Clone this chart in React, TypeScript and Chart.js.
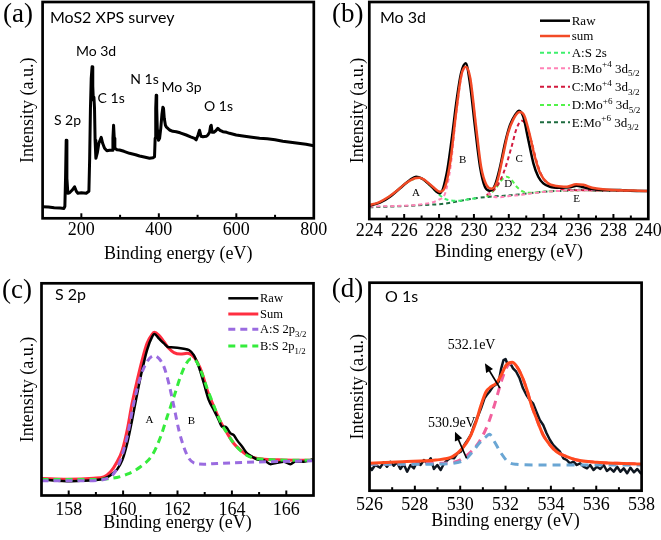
import React, { useEffect, useRef } from "react";
import { Chart, registerables } from "chart.js";

Chart.register(...registerables);

const SERIF = "'Liberation Serif', 'Times New Roman', Times, serif";
const SANS = "Lato, 'Noto Sans', 'DejaVu Sans', sans-serif";

// ---------------- (a) MoS2 XPS survey ----------------
const surveyEnergy = [100, 115, 130, 145, 155, 157.5, 159.2, 160.9, 162.7, 165.2, 169.6, 176, 182.5, 187, 191.1, 200, 212.6, 219.5, 221.5, 223.5, 225.5, 227.7, 229.5, 231, 232.5, 234, 235.5, 237.5, 241.5, 245.2, 251.3, 255, 259.9, 266, 272.8, 279.7, 281.5, 283.2, 285, 286.5, 292, 298.6, 310, 324.4, 340, 350.2, 365, 376, 385, 388.9, 390.5, 392, 393.2, 394.5, 396, 399.2, 402, 405, 408, 410.5, 412.1, 414, 417, 419.1, 427.7, 436, 444.9, 455, 470.7, 482, 492.2, 496.5, 501, 505.1, 509, 513.7, 522.3, 527, 531, 533.5, 535.2, 537.5, 542, 547, 552.4, 558, 565.3, 575, 582.5, 599.7, 616.9, 640, 660, 680, 700, 720, 740, 760, 780, 800];
const surveyIntensity = [11.5, 11.2, 10.6, 10.2, 9.8, 12, 40, 78, 40, 25, 25.5, 28, 31.5, 27, 25, 25.5, 25, 27, 60, 110, 140, 151.5, 132, 118, 121, 110, 78, 60, 66, 75, 81, 75, 70, 67.5, 68, 68, 80, 93, 80, 70, 68.5, 68.3, 67, 65, 63.5, 62.3, 61, 60, 60.5, 61.5, 80, 110, 123, 110, 90, 78, 80, 90, 104, 111, 110, 100, 93, 91.5, 88.3, 87, 86.6, 85.5, 83.3, 81.5, 80, 78.5, 83, 88, 82, 81.5, 82, 83.5, 86, 92, 93, 86, 86, 87.5, 90, 88, 86.6, 86, 85, 83.3, 82.3, 81, 80, 79.5, 78.5, 77, 76, 75, 74, 72.5];
const surveyTicks = [200, 400, 600, 800];
const surveyPeakNames = ["S 2p", "Mo 3d", "C 1s", "N 1s", "Mo 3p", "O 1s"];
const surveyPeakE = [164.3, 238, 277, 363, 458.7, 554];
const surveyPeakI = [93.8, 162.3, 115.3, 134.5, 126.6, 107.1];

// ---------------- (b) Mo 3d ----------------
const moTicks = [224, 226, 228, 230, 232, 234, 236, 238, 240];
const moRawE = [224, 224.61, 225.19, 225.76, 226.33, 226.68, 227.0, 227.48, 227.86, 228.05, 228.44, 228.72, 229.01, 229.26, 229.53, 229.77, 230.06, 230.35, 230.63, 230.92, 231.21, 231.5, 231.78, 232.07, 232.36, 232.59, 232.83, 233.12, 233.41, 233.69, 233.98, 234.36, 234.94, 235.51, 235.89, 236.28, 236.85, 237.61, 238.38, 238.95, 239.72, 240];
const moRawI = [13.3, 16.3, 22.3, 30.7, 39, 42.3, 40.7, 34, 27.3, 25.7, 45.7, 79, 119, 145.7, 155.7, 135.7, 92.3, 52.3, 32.3, 28.3, 34, 52.3, 75.7, 94, 104, 108.3, 102.3, 79, 55.7, 42.3, 35.7, 32.3, 31.3, 31.7, 33.3, 31.7, 29.7, 29, 29, 28.3, 28, 28];
const moSumE = [224, 224.55, 225.07, 225.58, 226.09, 226.61, 226.86, 227.12, 227.64, 228.05, 228.35, 228.66, 228.97, 229.28, 229.54, 229.79, 230.1, 230.41, 230.72, 231.03, 231.33, 231.64, 231.95, 232.26, 232.61, 232.87, 233.18, 233.49, 233.8, 234.21, 234.73, 235.34, 235.86, 236.27, 236.78, 237.4, 238.43, 239.46, 240];
const moSumI = [14, 16.7, 21.7, 28.3, 35.7, 40.7, 41.3, 39.7, 32.3, 27.3, 32.3, 59, 105.7, 144, 152.3, 140.7, 95.7, 52.3, 34, 30.3, 37.3, 60.7, 85.7, 99.7, 107, 104, 85.7, 62.3, 45.7, 36.3, 33, 32.3, 34.7, 34.3, 31.3, 29.7, 28.7, 28.3, 28];
const moAE = [224, 224.55, 225.07, 225.58, 226.09, 226.61, 226.86, 227.12, 227.64, 228.15, 228.55, 229.18, 229.69, 230.2];
const moAI = [13.3, 16.3, 21.7, 28.3, 35.7, 40.3, 41.3, 39, 30.7, 22.3, 19, 18.3, 19.7, 21];
const moBE = [224, 227.12, 227.95, 228.35, 228.66, 228.97, 229.28, 229.54, 229.79, 230.1, 230.41, 230.72, 231.03, 231.43, 232.05, 232.77, 233.8, 234.83, 236.37, 240];
const moBI = [12.3, 15, 19, 25.7, 52.3, 102.3, 142.3, 151.3, 139.7, 95.7, 49, 29, 23, 21.7, 23, 24.3, 26.7, 28, 28.7, 28];
const moCE = [230.73, 231.2, 231.69, 232.16, 232.45, 232.74, 233.02, 233.29, 233.59, 233.9, 234.32, 234.83, 235.55, 236.37, 238.43, 240];
const moCI = [24, 30, 45.7, 72.3, 90.7, 98.3, 93, 78, 58, 43, 34, 30.5, 29, 28.7, 28.3, 28];
const moDE = [230.73, 231.21, 231.59, 231.88, 232.16, 232.45, 232.83, 233.22, 234.32, 235.34, 236.37, 238.43, 240];
const moDI = [22.3, 29.7, 39, 42.3, 39, 32.3, 27.3, 26.3, 27.7, 28.3, 28.7, 28.3, 28];
const moEE = [224, 225.07, 226.09, 227.12, 228.15, 228.66, 229.18, 229.69, 230.2, 230.72, 231.23, 231.74, 232.26, 232.77, 233.29, 233.8, 234.32, 234.83, 235.34, 235.86, 236.37, 236.89, 237.4, 238.43, 239.46, 240];
const moEI = [11.7, 12.3, 13, 14, 15, 16.3, 18, 19.7, 21, 22, 22.7, 23.3, 24, 25, 26, 27, 27.7, 28, 28.3, 29.3, 29, 28.3, 28, 28, 28, 28];
const moPeakNames = ["A", "B", "C", "D", "E"];
const moPeakE = [226.68, 229.35, 232.6, 231.97, 235.89];
const moPeakI = [26.3, 59, 59.7, 35, 19.7];

// ---------------- (c) S 2p ----------------
const sTicks = [158, 160, 162, 164, 166];
const sRawE = [157.09, 157.58, 157.94, 158.43, 158.92, 159.29, 159.54, 159.78, 159.97, 160.15, 160.33, 160.52, 160.7, 160.88, 161.07, 161.15, 161.31, 161.5, 161.68, 161.77, 161.99, 162.23, 162.42, 162.6, 162.78, 162.97, 163.15, 163.34, 163.52, 163.64, 163.76, 163.95, 164.07, 164.19, 164.38, 164.56, 164.75, 164.93, 165.17, 165.42, 165.66, 165.91, 166.15, 166.34, 166.64, 166.95];
const sRawI = [16, 14.7, 14.3, 14.7, 15.3, 16.7, 20.3, 26, 35.3, 52, 75.3, 102, 125.3, 145.3, 158.7, 161.3, 157, 152, 148, 148, 147.7, 146.7, 145.3, 140.3, 128.7, 112, 95.3, 85.3, 75.3, 68.7, 68.7, 62, 60.3, 55.3, 48.7, 42, 38.7, 36, 35.3, 31.3, 32.7, 33.7, 31.3, 34, 33.7, 36];
const sSumE = [157, 157.94, 158.92, 159.29, 159.54, 159.78, 159.97, 160.15, 160.33, 160.52, 160.7, 160.88, 161.07, 161.15, 161.31, 161.5, 161.68, 161.87, 162.11, 162.36, 162.54, 162.72, 162.91, 163.09, 163.34, 163.58, 163.83, 164.07, 164.32, 164.56, 164.81, 165.17, 165.66, 166.28, 166.95];
const sSumI = [17, 16.3, 17.3, 18.7, 23.7, 33.7, 45.3, 65.3, 92, 115.3, 135.3, 152, 161.3, 163, 160.3, 153.7, 147, 142.7, 141.3, 142, 140, 133.7, 122, 105.3, 88.7, 73.7, 62, 52, 45.3, 40.3, 37.7, 36.3, 35.7, 35.3, 35.3];
const sAE = [157, 158.56, 159.29, 159.66, 159.9, 160.15, 160.39, 160.64, 160.88, 161.07, 161.15, 161.31, 161.5, 161.68, 161.87, 162.05, 162.23, 162.42, 162.66, 162.97, 163.46, 164.07, 165.29, 166.95];
const sAI = [14.7, 14.7, 16, 22, 35.3, 58.7, 92, 118.7, 133.7, 139.3, 139.7, 137, 128.7, 112, 88.7, 65.3, 48.7, 37, 32, 31.3, 32, 32.7, 33.7, 34.7];
const sBE = [157, 158.56, 159.54, 160.15, 160.64, 161.07, 161.38, 161.62, 161.87, 162.11, 162.29, 162.5, 162.66, 162.85, 163.09, 163.34, 163.58, 163.83, 164.07, 164.32, 164.56, 164.81, 165.29, 166.28, 166.95];
const sBI = [16, 16, 17, 21.3, 28.7, 40.3, 58.7, 78.7, 98.7, 118.7, 130.3, 136.7, 135.3, 125.3, 107, 89.3, 73.7, 62, 52, 44.7, 40, 37.3, 36, 35.3, 35.3];
const sPeakNames = ["A", "B"];
const sPeakE = [160.97, 162.51];
const sPeakI = [75.3, 74.7];

// ---------------- (d) O 1s ----------------
const oTicks = [526, 528, 530, 532, 534, 536, 538];
const oRawE = [526, 526.1, 526.25, 526.47, 526.62, 526.77, 526.92, 527.07, 527.21, 527.36, 527.51, 527.66, 527.81, 527.96, 528.1, 528.25, 528.4, 528.55, 528.7, 528.84, 528.99, 529.14, 529.29, 529.44, 529.59, 529.73, 529.88, 530.03, 530.18, 530.33, 530.47, 530.62, 530.77, 530.92, 531.07, 531.17, 531.29, 531.44, 531.59, 531.7, 531.81, 531.91, 532.0, 532.1, 532.21, 532.33, 532.47, 532.62, 532.77, 532.92, 533.07, 533.21, 533.36, 533.51, 533.66, 533.81, 533.96, 534.1, 534.25, 534.4, 534.55, 534.7, 534.84, 534.99, 535.14, 535.29, 535.44, 535.59, 535.73, 535.88, 536.03, 536.18, 536.33, 536.47, 536.62, 536.77, 536.92, 537.07, 537.21, 537.36, 537.51, 537.66, 537.81, 537.96];
const oRawI = [24.0, 20.7, 25.7, 23.0, 28.4, 24.0, 29.0, 25.0, 28.4, 21.7, 26.4, 19.0, 25.7, 22.4, 29.0, 25.7, 30.7, 27.4, 32.4, 21.7, 25.7, 20.7, 27.4, 30.7, 33.0, 32.4, 37.4, 39.0, 45.7, 50.7, 55.7, 65.7, 74.0, 82.4, 92.4, 95.7, 99.0, 104.0, 106.4, 109.0, 122.4, 130.7, 131.7, 125.7, 127.4, 122.4, 119.0, 112.4, 102.4, 95.7, 90.7, 87.4, 79.0, 70.7, 65.7, 57.4, 50.7, 45.7, 42.4, 39.0, 32.4, 30.7, 27.4, 29.0, 25.7, 27.4, 24.0, 22.4, 25.7, 20.7, 24.0, 21.7, 25.7, 19.7, 22.4, 19.0, 24.0, 19.0, 22.4, 17.4, 23.0, 18.4, 21.7, 17.4];
const oSumE = [526, 527.44, 528.92, 529.66, 530.1, 530.4, 530.7, 530.92, 531.14, 531.36, 531.59, 531.81, 532.03, 532.3, 532.47, 532.7, 532.92, 533.14, 533.36, 533.66, 533.96, 534.25, 534.7, 535.14, 536.03, 536.92, 537.96];
const oSumI = [27.4, 29, 30.7, 34, 42.4, 52.4, 69, 85.7, 99, 104, 107.4, 115.7, 125.7, 128.4, 125, 115.7, 102.4, 85.7, 72.4, 55.7, 45.7, 39, 34, 30.7, 28.4, 27.4, 26.7];
const oHighE = [526, 528.92, 529.8, 530.4, 530.84, 531.21, 531.51, 531.81, 532.03, 532.25, 532.47, 532.7, 532.92, 533.14, 533.36, 533.66, 533.96, 534.25, 534.7, 535.14, 536.03, 536.92, 537.96];
const oHighI = [26.4, 27.4, 29, 37.4, 49, 65.7, 85.7, 109, 122.4, 127.4, 125, 115.7, 102.4, 85.7, 72.4, 55.7, 45.7, 39, 34, 30.7, 28.4, 27.4, 26.7];
const oLowE = [526, 528.18, 529.66, 530.25, 530.55, 530.84, 531.14, 531.29, 531.51, 531.81, 532.1, 532.47, 533.36, 534.84, 537.96];
const oLowI = [26.4, 26.4, 27.4, 31.7, 39, 47.4, 54, 56.4, 49, 37.4, 29, 26.4, 25.7, 25.7, 25.7];
const oNoteText = ["532.1eV", "530.9eV"];
const oNoteE = [530.5, 529.63];
const oNoteI = [145.5, 67.5];
const oArrowFromE = [531.75, 530.28];
const oArrowFromI = [102.7, 32.4];
const oArrowToE = [531.09, 529.77];
const oArrowToI = [127.4, 59];

// ---------------- types ----------------
type Seg = { t: string; s?: "sup" | "sub" };
type Series = {
  label: string; legend?: Seg[]; x: number[]; y: number[];
  color: string; width: number; dash?: number[]; smooth?: boolean; z: number;
};
type Note = { text: string; x: number; y: number; font: string; baseline: CanvasTextBaseline };
type Arrow = { x1: number; y1: number; x2: number; y2: number };
type Panel = {
  key: string; left: number; top: number; w: number; h: number;
  area: { l: number; r: number; t: number; b: number };
  xMin: number; xMax: number; xStep: number; xLabels: number[]; yMax: number;
  tickPad: number; xTitlePad: number; yTitlePad: number;
  letter: string; letterX: number; letterY: number;
  title: string; titleDx: number; titleDy: number; titleSize: number;
  series: Series[]; notes: Note[]; arrows: Arrow[];
  legend?: { x1: number; x2: number; textX: number; rowsY: number[]; size: number };
};

const dashB = [4, 3];
const dashC = [7, 5];
const dashD = [8, 6];

const panels: Panel[] = [
  {
    key: "a", left: 0, top: 0, w: 330, h: 270,
    area: { l: 42.6, r: 313.8, t: 2, b: 218.3 },
    xMin: 100, xMax: 800, xStep: 100, xLabels: surveyTicks, yMax: 216.3,
    tickPad: 3.2, xTitlePad: 6.5, yTitlePad: 19,
    letter: "(a)", letterX: 3, letterY: 15,
    title: "MoS2 XPS survey", titleDx: 7.4, titleDy: 21.3, titleSize: 16,
    series: [
      { label: "Survey", x: surveyEnergy, y: surveyIntensity, color: "#000", width: 3, z: 0 },
    ],
    notes: surveyPeakNames.map((t, i) => ({ text: t, x: surveyPeakE[i], y: surveyPeakI[i], font: `14px ${SANS}`, baseline: "alphabetic" as CanvasTextBaseline })),
    arrows: [],
  },
  {
    key: "b", left: 330, top: 0, w: 331, h: 270,
    area: { l: 39.3, r: 318.3, t: 2, b: 219 },
    xMin: 224, xMax: 240, xStep: 1, xLabels: moTicks, yMax: 217,
    tickPad: 3.5, xTitlePad: 8.3, yTitlePad: 19,
    letter: "(b)", letterX: 2, letterY: 15,
    title: "Mo 3d", titleDx: 10.7, titleDy: 21.3, titleSize: 16,
    series: [
      { label: "Raw", legend: [{ t: "Raw" }], x: moRawE, y: moRawI, color: "#000", width: 2.5, smooth: true, z: 1 },
      { label: "sum", legend: [{ t: "sum" }], x: moSumE, y: moSumI, color: "#f24a26", width: 2.5, smooth: true, z: 0 },
      { label: "A:S 2s", legend: [{ t: "A:S 2s" }], x: moAE, y: moAI, color: "#3df06c", width: 2, dash: dashB, smooth: true, z: 4 },
      { label: "B:Mo+4 3d5/2", legend: [{ t: "B:Mo" }, { t: "+4", s: "sup" }, { t: " 3d" }, { t: "5/2", s: "sub" }], x: moBE, y: moBI, color: "#ff82b6", width: 2, dash: dashB, smooth: true, z: 2 },
      { label: "C:Mo+4 3d3/2", legend: [{ t: "C:Mo" }, { t: "+4", s: "sup" }, { t: " 3d" }, { t: "3/2", s: "sub" }], x: moCE, y: moCI, color: "#d21a3e", width: 2, dash: dashB, smooth: true, z: 3 },
      { label: "D:Mo+6 3d5/2", legend: [{ t: "D:Mo" }, { t: "+6", s: "sup" }, { t: " 3d" }, { t: "5/2", s: "sub" }], x: moDE, y: moDI, color: "#52f24a", width: 2, dash: dashB, smooth: true, z: 5 },
      { label: "E:Mo+6 3d3/2", legend: [{ t: "E:Mo" }, { t: "+6", s: "sup" }, { t: " 3d" }, { t: "3/2", s: "sub" }], x: moEE, y: moEI, color: "#1d6b3f", width: 2, dash: dashB, smooth: true, z: 6 },
    ],
    notes: moPeakNames.map((t, i) => ({ text: t, x: moPeakE[i], y: moPeakI[i], font: `11px ${SERIF}`, baseline: "middle" as CanvasTextBaseline })),
    arrows: [],
    legend: { x1: 210, x2: 240, textX: 241.7, rowsY: [20.7, 36, 52.7, 68.3, 86.7, 105, 122.3], size: 13 },
  },
  {
    key: "c", left: 0, top: 270, w: 330, h: 270,
    area: { l: 41.5, r: 313.5, t: 13.3, b: 225.5 },
    xMin: 157, xMax: 167, xStep: 1, xLabels: sTicks, yMax: 212,
    tickPad: 5.5, xTitlePad: 7.7, yTitlePad: 19,
    letter: "(c)", letterX: 2, letterY: 21.3,
    title: "S 2p", titleDx: 13.5, titleDy: 16.7, titleSize: 16,
    series: [
      { label: "Raw", legend: [{ t: "Raw" }], x: sRawE, y: sRawI, color: "#000", width: 2.5, smooth: true, z: 2 },
      { label: "Sum", legend: [{ t: "Sum" }], x: sSumE, y: sSumI, color: "#ff2e40", width: 3, smooth: true, z: 3 },
      { label: "A:S 2p3/2", legend: [{ t: "A:S 2p" }, { t: "3/2", s: "sub" }], x: sAE, y: sAI, color: "#9a6be0", width: 3, dash: dashC, smooth: true, z: 0 },
      { label: "B:S 2p1/2", legend: [{ t: "B:S 2p" }, { t: "1/2", s: "sub" }], x: sBE, y: sBI, color: "#35ec3c", width: 3, dash: dashC, smooth: true, z: 1 },
    ],
    notes: sPeakNames.map((t, i) => ({ text: t, x: sPeakE[i], y: sPeakI[i], font: `11px ${SERIF}`, baseline: "middle" as CanvasTextBaseline })),
    arrows: [],
    legend: { x1: 228.3, x2: 258.3, textX: 260, rowsY: [28.3, 44, 59.3, 76], size: 12.5 },
  },
  {
    key: "d", left: 330, top: 270, w: 331, h: 270,
    area: { l: 39.5, r: 311.6, t: 12.7, b: 220.7 },
    xMin: 526, xMax: 538, xStep: 1, xLabels: oTicks, yMax: 208,
    tickPad: 5.3, xTitlePad: 10, yTitlePad: 19,
    letter: "(d)", letterX: 1.7, letterY: 19.8,
    title: "O 1s", titleDx: 15.5, titleDy: 19, titleSize: 16,
    series: [
      { label: "Raw", x: oRawE, y: oRawI, color: "#0e1620", width: 2.5, z: 3 },
      { label: "Sum", x: oSumE, y: oSumI, color: "#ff4a1e", width: 3, smooth: true, z: 0 },
      { label: "532.1 eV", x: oHighE, y: oHighI, color: "#f2609c", width: 3, dash: dashD, smooth: true, z: 2 },
      { label: "530.9 eV", x: oLowE, y: oLowI, color: "#6aa6d4", width: 3, dash: dashD, smooth: true, z: 1 },
    ],
    notes: oNoteText.map((t, i) => ({ text: t, x: oNoteE[i], y: oNoteI[i], font: `14px ${SERIF}`, baseline: "middle" as CanvasTextBaseline })),
    arrows: oArrowFromE.map((e, i) => ({ x1: e, y1: oArrowFromI[i], x2: oArrowToE[i], y2: oArrowToI[i] })),
  },
];

function drawRich(ctx: CanvasRenderingContext2D, segs: Seg[], x: number, yBase: number, size: number) {
  let cx = x;
  for (const seg of segs) {
    const sz = seg.s ? size * 0.7 : size;
    ctx.font = `${sz}px ${SERIF}`;
    const dy = seg.s === "sup" ? -size * 0.4 : seg.s === "sub" ? size * 0.28 : 0;
    ctx.fillText(seg.t, cx, yBase + dy);
    cx += ctx.measureText(seg.t).width;
  }
}

function decor(p: Panel) {
  return {
    id: "decor_" + p.key,
    afterDraw(chart: any) {
      const ctx: CanvasRenderingContext2D = chart.ctx;
      const a = chart.chartArea;
      const xs = chart.scales.x;
      const ys = chart.scales.y;
      ctx.save();
      ctx.setLineDash([]);
      ctx.strokeStyle = "#000";
      ctx.fillStyle = "#000";
      ctx.lineWidth = 2;
      for (const t of xs.ticks) {
        if (t.value <= p.xMin || t.value >= p.xMax) continue;
        const px = xs.getPixelForValue(t.value);
        const major = p.xLabels.some((v) => Math.abs(v - t.value) < 1e-6);
        const len = major ? 5 : 3.5;
        ctx.beginPath();
        ctx.moveTo(px, a.bottom);
        ctx.lineTo(px, a.bottom - len);
        ctx.stroke();
      }
      ctx.lineWidth = 2.7;
      ctx.strokeRect(a.left, a.top, a.right - a.left, a.bottom - a.top);
      ctx.font = `27px ${SERIF}`;
      ctx.textAlign = "left";
      ctx.textBaseline = "middle";
      ctx.fillText(p.letter, p.letterX, p.letterY);
      ctx.font = `${p.titleSize}px ${SANS}`;
      ctx.textBaseline = "alphabetic";
      ctx.fillText(p.title, a.left + p.titleDx, a.top + p.titleDy);
      for (const n of p.notes) {
        ctx.font = n.font;
        ctx.textAlign = "center";
        ctx.textBaseline = n.baseline;
        ctx.fillText(n.text, xs.getPixelForValue(n.x), ys.getPixelForValue(n.y));
      }
      for (const ar of p.arrows) {
        const x1 = xs.getPixelForValue(ar.x1), y1 = ys.getPixelForValue(ar.y1);
        const x2 = xs.getPixelForValue(ar.x2), y2 = ys.getPixelForValue(ar.y2);
        const ang = Math.atan2(y2 - y1, x2 - x1);
        const L = 9, W = 4;
        ctx.lineWidth = 1.6;
        ctx.beginPath();
        ctx.moveTo(x1, y1);
        ctx.lineTo(x2 - Math.cos(ang) * 4, y2 - Math.sin(ang) * 4);
        ctx.stroke();
        ctx.beginPath();
        ctx.moveTo(x2, y2);
        ctx.lineTo(x2 - L * Math.cos(ang) + W * Math.sin(ang), y2 - L * Math.sin(ang) - W * Math.cos(ang));
        ctx.lineTo(x2 - L * Math.cos(ang) - W * Math.sin(ang), y2 - L * Math.sin(ang) + W * Math.cos(ang));
        ctx.closePath();
        ctx.fill();
      }
      const lg = p.legend;
      if (lg) {
        let k = 0;
        for (const s of p.series) {
          if (!s.legend) continue;
          const y = lg.rowsY[k++];
          ctx.save();
          ctx.strokeStyle = s.color;
          ctx.lineWidth = s.width;
          ctx.setLineDash(s.dash ?? []);
          ctx.beginPath();
          ctx.moveTo(lg.x1, y);
          ctx.lineTo(lg.x2, y);
          ctx.stroke();
          ctx.restore();
          ctx.fillStyle = "#000";
          ctx.textAlign = "left";
          ctx.textBaseline = "alphabetic";
          drawRich(ctx, s.legend, lg.textX, y + lg.size * 0.33, lg.size);
        }
      }
      ctx.restore();
    },
  };
}

function buildConfig(p: Panel): any {
  const datasets = p.series.map((s) => ({
    label: s.label,
    data: s.x.map((x, i) => ({ x, y: s.y[i] })),
    borderColor: s.color,
    backgroundColor: s.color,
    borderWidth: s.width,
    borderDash: s.dash ?? [],
    borderJoinStyle: "round",
    borderCapStyle: s.dash ? "butt" : "round",
    pointRadius: 0,
    pointHoverRadius: 0,
    fill: false,
    tension: 0,
    cubicInterpolationMode: s.smooth ? "monotone" : "default",
    order: s.z,
  }));
  const axisFont = { family: SERIF, size: 18, lineHeight: 1 };
  return {
    type: "line",
    data: { datasets },
    options: {
      animation: false,
      responsive: false,
      maintainAspectRatio: false,
      devicePixelRatio: 1,
      events: [],
      layout: { padding: { left: 0, top: p.area.t, right: p.w - p.area.r, bottom: 0 } },
      plugins: { legend: { display: false }, tooltip: { enabled: false }, title: { display: false } },
      scales: {
        x: {
          type: "linear",
          position: "bottom",
          min: p.xMin,
          max: p.xMax,
          ticks: {
            stepSize: p.xStep,
            autoSkip: false,
            maxRotation: 0,
            minRotation: 0,
            padding: p.tickPad,
            color: "#000",
            font: axisFont,
            callback: (v: number) => (p.xLabels.some((t) => Math.abs(t - v) < 1e-6) ? String(v) : ""),
          },
          grid: { display: false, drawTicks: false },
          border: { display: false },
          title: { display: true, text: "Binding energy (eV)", color: "#000", font: axisFont, padding: { top: 0, bottom: p.xTitlePad } },
          afterFit: (s: any) => {
            s.height = p.h - p.area.b;
            s.paddingLeft = 0;
            s.paddingRight = 0;
          },
        },
        y: {
          type: "linear",
          position: "left",
          min: 0,
          max: p.yMax,
          ticks: { display: false },
          grid: { display: false, drawTicks: false },
          border: { display: false },
          title: { display: true, text: "Intensity (a.u.)", color: "#000", font: axisFont, padding: { top: p.yTitlePad, bottom: 0 } },
          afterFit: (s: any) => {
            s.width = p.area.l;
          },
        },
      },
    },
    plugins: [decor(p)],
  };
}

function PanelChart({ p }: { p: Panel }) {
  const ref = useRef<HTMLCanvasElement>(null);
  useEffect(() => {
    const c = ref.current;
    if (!c) return;
    const chart = new Chart(c, buildConfig(p));
    return () => chart.destroy();
  }, [p]);
  return (
    <canvas
      ref={ref}
      width={p.w}
      height={p.h}
      style={{ position: "absolute", left: p.left, top: p.top, width: p.w, height: p.h, display: "block" }}
    />
  );
}

export default function App() {
  return (
    <div style={{ position: "fixed", left: 0, top: 0, width: 661, height: 540, background: "#fff", overflow: "hidden" }}>
      {panels.map((p) => (
        <PanelChart key={p.key} p={p} />
      ))}
    </div>
  );
}
